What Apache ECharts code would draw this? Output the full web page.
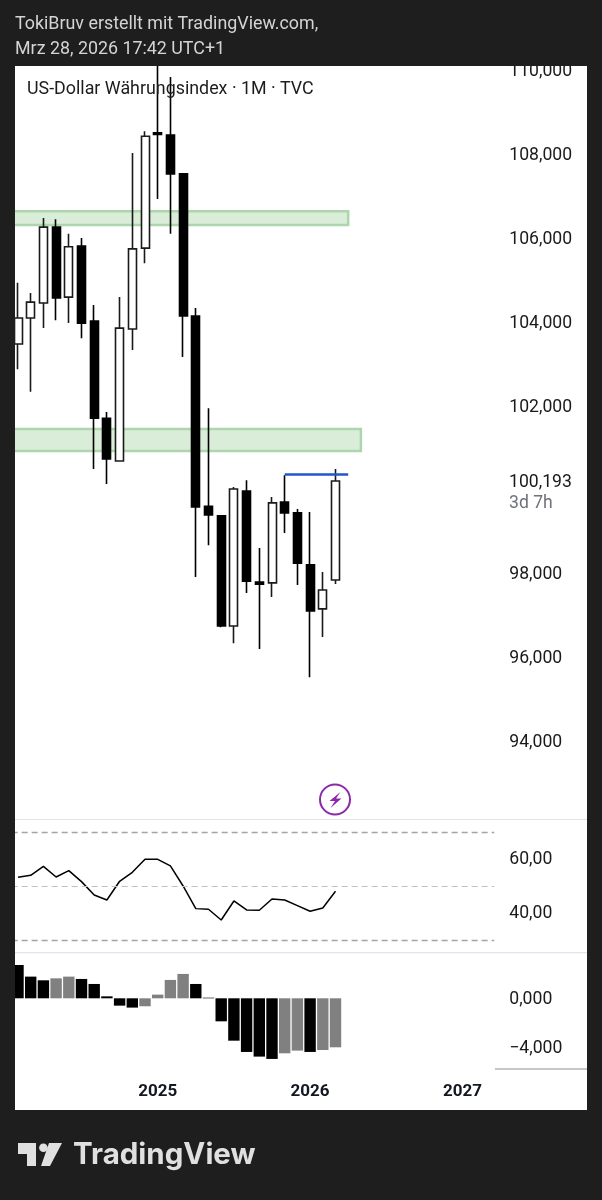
<!DOCTYPE html>
<html><head><meta charset="utf-8">
<style>html,body{margin:0;padding:0;background:#1e1e1e}#c{width:602px;height:1200px}</style>
<script src="https://cdn.jsdelivr.net/npm/echarts@6/dist/echarts.min.js"></script>
</head><body><div id="c"></div>
<script>
const months = ['2024-02','2024-03','2024-04','2024-05','2024-06','2024-07','2024-08','2024-09','2024-10','2024-11','2024-12',
'2025-01','2025-02','2025-03','2025-04','2025-05','2025-06','2025-07','2025-08','2025-09','2025-10','2025-11','2025-12',
'2026-01','2026-02','2026-03','2026-04','2026-05','2026-06','2026-07','2026-08','2026-09','2026-10','2026-11','2026-12',
'2027-01','2027-02','2027-03'];
// open, close, low, high
const candles = [
[103.46,104.08,102.86,104.92],[104.08,104.46,102.32,104.68],[104.44,106.25,103.84,106.47],[106.25,104.56,104.03,106.44],
[104.58,105.78,103.96,106.09],[105.80,103.96,103.60,105.99],[104.01,101.69,100.48,104.39],[101.69,100.72,100.12,101.84],
[100.67,103.84,100.66,104.58],[103.82,105.73,103.32,108.02],[105.75,108.42,105.39,108.54],[108.50,108.46,106.92,110.40],
[108.45,107.52,106.09,109.83],[107.52,104.13,103.15,107.52],[104.13,99.57,97.90,104.32],[99.59,99.38,98.66,101.93],
[99.36,96.73,96.70,99.38],[96.73,100.00,96.32,100.05],[99.95,97.80,97.52,100.21],[97.78,97.73,96.18,98.59],
[97.76,99.67,97.42,99.81],[99.69,99.43,98.95,100.33],[99.43,98.23,97.71,99.52],[98.19,97.09,95.51,99.45],
[97.14,97.59,96.47,98.02],[97.83,100.19,97.73,100.48]];
const rsi = [53.36,54.10,57.46,53.48,55.85,51.74,46.77,44.90,51.87,55.22,60.07,60.07,57.59,50.12,41.67,41.42,37.44,44.53,41.17,41.04,45.27,44.90,42.79,40.67,41.92,48.13];
const macdHist = [2.72,1.77,1.47,1.63,1.77,1.58,1.17,0.16,-0.60,-0.76,-0.65,0.30,1.50,1.99,1.17,0.05,-1.88,-3.46,-4.38,-4.76,-4.95,-4.49,-4.27,-4.38,-4.22,-4.00];
const rsiLevels = [70,50,30];
const upperZone = [106.63,106.30];
const lowerZone = [101.43,100.91];
const highLine = 100.36;
const lastPrice = '100,193';
const countdown = '3d 7h';

const DARK='#1e1e1e', F='Roboto, sans-serif', L=11.65, W=482.6;
const fmt=(v,d)=>(v<0?'\u2212':'')+Math.abs(v).toFixed(d).replace('.',',');
const xBase=(i,extra)=>Object.assign({type:'category',gridIndex:i,data:months,axisLine:{show:false},axisTick:{show:false},axisLabel:{show:false},splitLine:{show:false}},extra||{});
const yBase=(i,min,max,iv,d,skip,shift)=>({type:'value',gridIndex:i,position:'right',min,max,interval:iv,axisLine:{show:false},axisTick:{show:false},splitLine:{show:false},
  axisLabel:{show:true,margin:15,color:'#1a1a1a',fontFamily:F,fontSize:17.6,verticalAlign:'top',lineHeight:shift*2,formatter:v=>skip.some(s=>Math.abs(s-v)<1e-6)?'':fmt(v,d)}});
const txt=(x,y,t,fs,col,extra)=>({type:'text',x,y,z:101,style:Object.assign({text:t,font:'400 '+fs+'px '+F,fill:col,textVerticalAlign:'middle'},extra||{})});
const rect=(x,y,w,h,col,z)=>({type:'rect',shape:{x,y,width:w,height:h},style:{fill:col},z,silent:true});
const lvlStyle=v=>v===50?{color:'#c0c0c0',width:1.2,type:[6,4]}:{color:'#a4a4a4',width:1.4,type:[6,4]};

const chart=echarts.init(document.getElementById('c'),null,{renderer:'canvas',width:602,height:1200});
chart.setOption({
 animation:false,backgroundColor:DARK,
 grid:[
  {left:L,width:W,top:65.81,height:758.4},
  {left:L,width:W,top:805.9,height:160.8},
  {left:L,width:W,top:949.3,height:147}
 ],
 xAxis:[xBase(0),xBase(1),xBase(2,{axisLabel:{show:true,margin:-13,color:'#131722',fontFamily:F,fontWeight:700,fontSize:17,
   interval:(i,v)=>v.endsWith('-01'),formatter:v=>v.slice(0,4),hideOverlap:false}})],
 yAxis:[yBase(0,92,110.1,2,3,[92,100],2),yBase(1,20,80,20,2,[20,80],0.5),yBase(2,-8,4,4,3,[-8,4],1)],
 series:[
  {type:'candlestick',xAxisIndex:0,yAxisIndex:0,data:candles,barWidth:8.5,z:3,
   itemStyle:{color:'#ffffff',color0:'#000000',borderColor:'#1a1a1a',borderColor0:'#000000',borderWidth:1.6},
   markArea:{silent:true,z:1,itemStyle:{color:'#d9edd9',borderColor:'#aed6ae',borderWidth:2.5},
    data:[[{yAxis:upperZone[0]},{xAxis:'2026-04',yAxis:upperZone[1]}],[{yAxis:lowerZone[0]},{xAxis:'2026-05',yAxis:lowerZone[1]}]]},
   markLine:{silent:true,symbol:'none',label:{show:false},lineStyle:{color:'#2454c8',width:2.6,type:'solid'},
    data:[[{xAxis:'2025-11',yAxis:highLine},{xAxis:'2026-04',yAxis:highLine}]]}},
  {type:'line',xAxisIndex:1,yAxisIndex:1,data:rsi,symbol:'none',lineStyle:{color:'#000',width:1.5},z:3,
   markLine:{silent:true,symbol:'none',label:{show:false},data:rsiLevels.map(v=>({yAxis:v,lineStyle:lvlStyle(v)}))}},
  {type:'bar',xAxisIndex:2,yAxisIndex:2,data:macdHist,barWidth:11.4,
   itemStyle:{color:p=>p.dataIndex>0&&macdHist[p.dataIndex]>macdHist[p.dataIndex-1]?'#808080':'#000000'}}
 ],
 graphic:{elements:[
  rect(15,66,572,1044,'#ffffff',-1),
  rect(0,0,15,1200,DARK,100),rect(587,0,15,1200,DARK,100),rect(0,0,602,66,DARK,100),rect(0,1110,602,90,DARK,100),
  rect(15,819,572,1,'#e0e3eb',50),rect(15,952,572,1.2,'#e0e3eb',50),rect(495,1068.5,92,1,'#8f8f8f',50),
  txt(15,24.5,'TokiBruv erstellt mit TradingView.com,',17.85,'#d4d4d4'),
  txt(15,49.5,'Mrz 28, 2026 17:42 UTC+1',17.85,'#d4d4d4'),
  txt(27,90,'US-Dollar W\u00e4hrungsindex \u00b7 1M \u00b7 TVC',17.85,'#1c1c1c'),
  txt(509,482.5,lastPrice,17.6,'#1a1a1a'),
  txt(509,504,countdown,17.6,'#6f727c'),
  {type:'circle',shape:{cx:335,cy:799.5,r:15},style:{fill:'#fff',stroke:'#8a2aa8',lineWidth:2},z:60},
  {type:'polygon',shape:{points:[[340.5,792],[329.5,801],[335,801],[330.5,808],[341.5,798.5],[336,798.5]]},style:{fill:'#8a2aa8'},z:61},
  {type:'polygon',shape:{points:[[18,1143],[36,1143],[36,1166],[27,1166],[27,1154],[18,1154]]},style:{fill:'#e0e0e0'},z:101},
  {type:'circle',shape:{cx:43.4,cy:1147.7,r:4.3},style:{fill:'#e0e0e0'},z:101},
  {type:'polygon',shape:{points:[[49,1143],[62,1143],[50,1166],[41,1166]]},style:{fill:'#e0e0e0'},z:101},
  {type:'text',x:73,y:1155,z:101,style:{text:'TradingView',font:'700 29.5px Inter, sans-serif',fill:'#e0e0e0',textVerticalAlign:'middle'}}
 ]}
});
</script></body></html>
